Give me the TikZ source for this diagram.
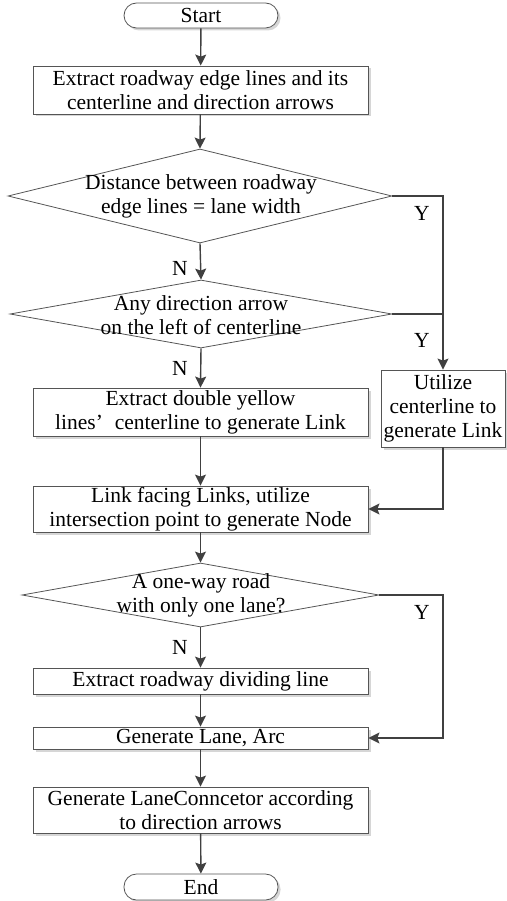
\documentclass[tikz,border=0pt]{standalone}
\usepackage{fontspec}
\setmainfont{Liberation Serif}
\usetikzlibrary{shapes.geometric,arrows.meta,shadows,calc}
\definecolor{ln}{HTML}{404040}
\definecolor{bd}{HTML}{555555}
\tikzset{
  every node/.style={font=\fontsize{21.5}{24}\selectfont, text=black},
  box/.style={draw=bd, line width=0.8pt, fill=white, align=center, inner sep=0pt,
    drop shadow={shadow xshift=2.5pt, shadow yshift=-2.5pt, fill=black!16, opacity=1}},
  term/.style={box, rounded corners=12.5pt},
  dia/.style={shape=diamond, draw=bd, line width=0.8pt, inner sep=0pt},
  txt/.style={align=center, inner sep=0pt},
  arr/.style={draw=ln, line width=1.4pt, -{Stealth[length=11pt,width=11pt,inset=2pt]}},
  ln2/.style={draw=ln, line width=1.4pt},
  yn/.style={inner sep=0pt}
}
\begin{document}
\begin{tikzpicture}[x=1pt,y=-1pt]
\useasboundingbox (0,0) rectangle (506,901);
\node[term, minimum width=154pt, minimum height=25pt] (st) at (201,15.5) {Start};
\node[box, minimum width=335pt, minimum height=48pt] (b1) at (200.5,90) {Extract roadway edge lines and its\\centerline and direction arrows};
\node[dia, minimum width=384pt, minimum height=94pt] (d1) at (200,196) {};
\node[txt] (t1) at (201,196) {Distance between roadway\\edge lines = lane width};
\node[dia, minimum width=382pt, minimum height=68pt] (d2) at (201,314) {};
\node[txt] (t2) at (201,315) {Any direction arrow\\on the left of centerline};
\node[box, minimum width=335pt, minimum height=48pt] (b3) at (200.5,412) {Extract double yellow\\lines’\hspace{0.55em}centerline to generate Link};
\node[box, minimum width=124pt, minimum height=77pt] (u) at (443,408.5) {Utilize\\centerline to\\generate Link};
\node[box, minimum width=335pt, minimum height=46pt] (b4) at (200.5,509) {Link facing Links, utilize\\intersection point to generate Node};
\node[dia, minimum width=357pt, minimum height=64pt] (d3) at (200.5,595) {};
\node[txt] (t3) at (201,595) {A one-way road\\with only one lane?};
\node[box, minimum width=335pt, minimum height=26pt] (b5) at (200.5,681) {Extract roadway dividing line};
\node[box, minimum width=335pt, minimum height=22pt] (b6) at (200.5,738) {Generate Lane, Arc};
\node[box, minimum width=335pt, minimum height=46pt] (b7) at (200.5,810) {Generate LaneConncetor according\\to direction arrows};
\node[term, minimum width=154pt, minimum height=26pt] (en) at (201,887) {End};

\draw[arr] (st) -- (b1);
\draw[arr] (b1) -- (d1.north);
\draw[arr] (d1.south) -- (d2.north);
\draw[arr] (d1.east) -| (u.north);
\draw[ln2] (d2.east) -- (d2.east -| u.north);
\draw[arr] (d2.south) -- (b3.north);
\draw[arr] (b3) -- (b4);
\draw[arr] (u.south) |- (b4.east);
\draw[arr] (b4) -- (d3.north);
\draw[arr] (d3.east) -- (d3.east -| u.south) |- (b6.east);
\draw[arr] (d3.south) -- (b5.north);
\draw[arr] (b5) -- (b6);
\draw[arr] (b6) -- (b7);
\draw[arr] (b7) -- (en);

\node[yn] (y1) at (422,213) {Y};
\node[yn] (y2) at (422,340) {Y};
\node[yn] (y3) at (422,612) {Y};
\node[yn] (n1) at (180,268) {N};
\node[yn] (n2) at (180,368) {N};
\node[yn] (n3) at (180,647) {N};
\end{tikzpicture}
\end{document}
